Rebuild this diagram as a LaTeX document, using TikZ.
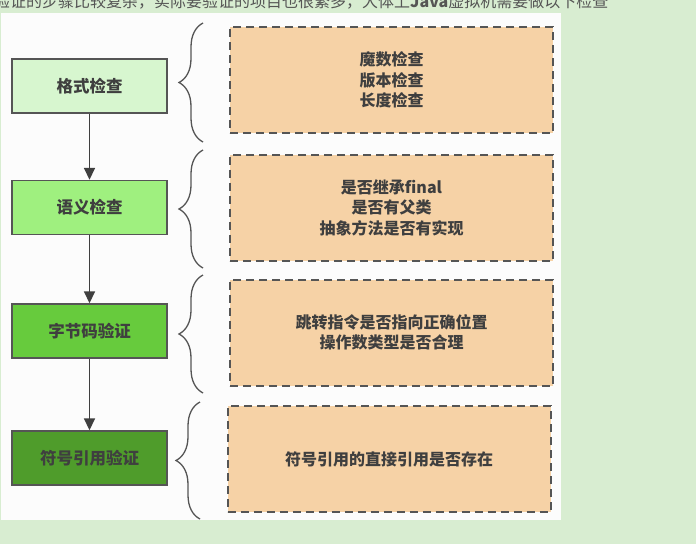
\documentclass[tikz,border=0pt]{standalone}
\usepackage{fontspec}
\usepackage{tikz}
\usetikzlibrary{decorations.pathreplacing,arrows.meta}
\setmainfont{Noto Sans CJK SC}
\definecolor{bggreen}{HTML}{D8EDD1}
\definecolor{panelwhite}{HTML}{FCFCFC}
\definecolor{lineGray}{HTML}{555555}
\definecolor{textGray}{HTML}{3F3F3F}
\definecolor{peach}{HTML}{F6D2A6}
\definecolor{stepA}{HTML}{D7F6CF}
\definecolor{stepB}{HTML}{9FF07F}
\definecolor{stepC}{HTML}{67CB3D}
\definecolor{stepD}{HTML}{4F9C2B}

\begin{document}
\begin{tikzpicture}[x=1pt,y=-1pt,
  stepbox/.style={draw=lineGray,line width=1.4pt,minimum width=155pt,minimum height=54pt,
    inner sep=0pt,text=textGray,font=\fontsize{16.5}{18}\selectfont\bfseries},
  checkbox/.style={draw=lineGray,fill=peach,line width=2pt,dash pattern=on 8pt off 5pt,
    minimum width=323pt,minimum height=106pt,inner sep=0pt,align=center,text=textGray,
    font=\fontsize{16}{20.5}\selectfont\bfseries},
  bracket/.style={draw=lineGray,line width=1.3pt,decorate,decoration={brace,amplitude=24pt}},
  flow/.style={draw=textGray,line width=1.6pt,-{Triangle[length=12pt,width=11pt]}}]
\useasboundingbox (0,0) rectangle (696,544);
% screenshot background and the white panel
\fill[bggreen] (0,0) rectangle (696,544);
\fill[panelwhite] (1,13) rectangle (561,520);
% the line of text cut off at the top
\begin{scope}
  \clip (0,0) rectangle (696,11);
  \node[anchor=base west,inner sep=0pt,text=lineGray,font=\fontsize{16}{16}\selectfont]
    (head) at (-6,7) {验证的步骤比较复杂，实际要验证的项目也很繁多，大体上\textbf{Java}虚拟机需要做以下检查};
\end{scope}
% the four steps
\foreach \i/\y/\col/\lab in {1/86/stepA/格式检查, 2/207.5/stepB/语义检查,
    3/331/stepC/字节码验证, 4/458/stepD/符号引用验证}
  \node[stepbox,fill=\col] (s\i) at (89.5,\y) {\lab};
\foreach \i/\j in {1/2, 2/3, 3/4}
  \draw[flow] (s\i) -- (s\j);
% what each step checks
\node[checkbox] (d1) at (391.5,80) {魔数检查\\版本检查\\长度检查};
\node[checkbox] (d2) at (391.5,207.5) {是否继承final\\是否有父类\\抽象方法是否有实现};
\node[checkbox] (d3) at (391.5,332.5) {跳转指令是否指向正确位置\\操作数类型是否合理};
\node[checkbox] (d4) at (389,459) {符号引用的直接引用是否存在};
% braces between them
\foreach \x/\top/\bot in {203/23/142, 203/150/268, 203/275/393, 200/402/519}
  \draw[bracket] (\x,\bot) -- (\x,\top);
\end{tikzpicture}
\end{document}
